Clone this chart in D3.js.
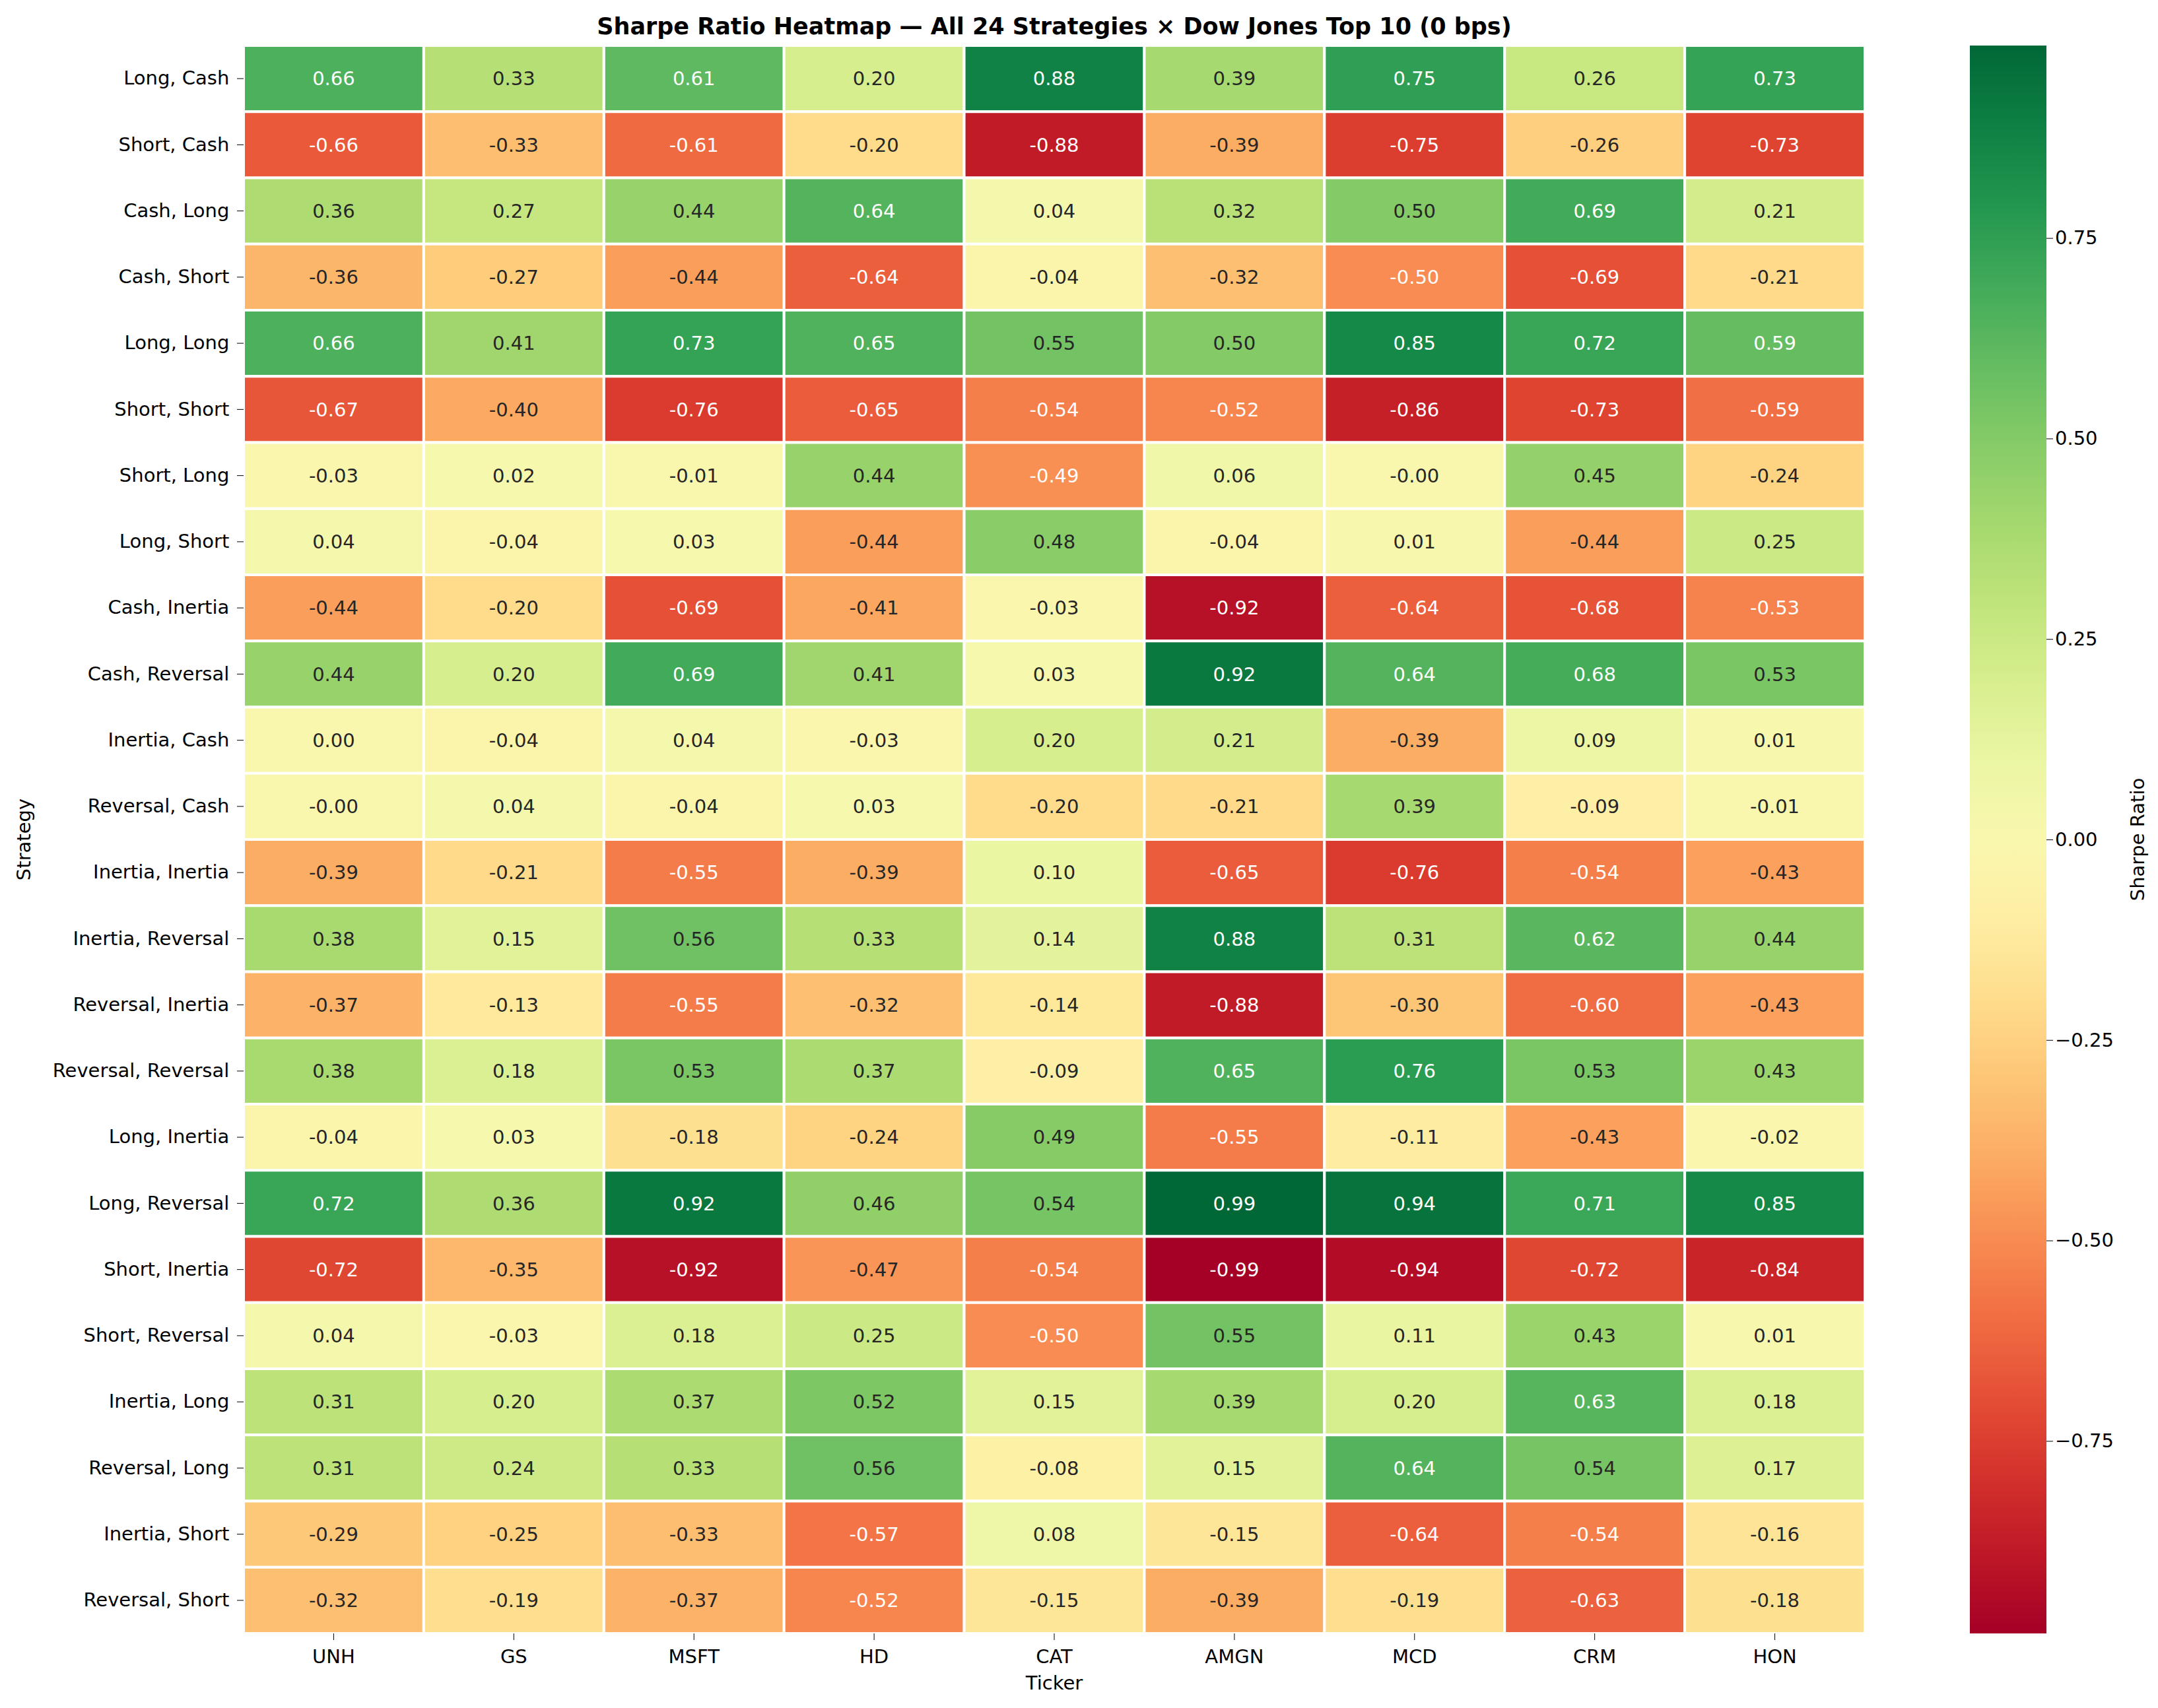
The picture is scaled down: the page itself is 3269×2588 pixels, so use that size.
<!DOCTYPE html>
<html><head><meta charset="utf-8">
<script src="https://cdn.jsdelivr.net/npm/d3@7"></script>
<style>body{margin:0;background:#fff}text{font-family:"DejaVu Sans",sans-serif}</style>
</head><body><svg id="c" width="3269" height="2588"></svg>
<script>
const tickers=["UNH","GS","MSFT","HD","CAT","AMGN","MCD","CRM","HON"];
const strategies=["Long, Cash","Short, Cash","Cash, Long","Cash, Short","Long, Long","Short, Short","Short, Long","Long, Short","Cash, Inertia","Cash, Reversal","Inertia, Cash","Reversal, Cash","Inertia, Inertia","Inertia, Reversal","Reversal, Inertia","Reversal, Reversal","Long, Inertia","Long, Reversal","Short, Inertia","Short, Reversal","Inertia, Long","Reversal, Long","Inertia, Short","Reversal, Short"];
const values=[
[0.66,0.33,0.61,0.20,0.88,0.39,0.75,0.26,0.73],
[-0.66,-0.33,-0.61,-0.20,-0.88,-0.39,-0.75,-0.26,-0.73],
[0.36,0.27,0.44,0.64,0.04,0.32,0.50,0.69,0.21],
[-0.36,-0.27,-0.44,-0.64,-0.04,-0.32,-0.50,-0.69,-0.21],
[0.66,0.41,0.73,0.65,0.55,0.50,0.85,0.72,0.59],
[-0.67,-0.40,-0.76,-0.65,-0.54,-0.52,-0.86,-0.73,-0.59],
[-0.03,0.02,-0.01,0.44,-0.49,0.06,-0.00,0.45,-0.24],
[0.04,-0.04,0.03,-0.44,0.48,-0.04,0.01,-0.44,0.25],
[-0.44,-0.20,-0.69,-0.41,-0.03,-0.92,-0.64,-0.68,-0.53],
[0.44,0.20,0.69,0.41,0.03,0.92,0.64,0.68,0.53],
[0.00,-0.04,0.04,-0.03,0.20,0.21,-0.39,0.09,0.01],
[-0.00,0.04,-0.04,0.03,-0.20,-0.21,0.39,-0.09,-0.01],
[-0.39,-0.21,-0.55,-0.39,0.10,-0.65,-0.76,-0.54,-0.43],
[0.38,0.15,0.56,0.33,0.14,0.88,0.31,0.62,0.44],
[-0.37,-0.13,-0.55,-0.32,-0.14,-0.88,-0.30,-0.60,-0.43],
[0.38,0.18,0.53,0.37,-0.09,0.65,0.76,0.53,0.43],
[-0.04,0.03,-0.18,-0.24,0.49,-0.55,-0.11,-0.43,-0.02],
[0.72,0.36,0.92,0.46,0.54,0.99,0.94,0.71,0.85],
[-0.72,-0.35,-0.92,-0.47,-0.54,-0.99,-0.94,-0.72,-0.84],
[0.04,-0.03,0.18,0.25,-0.50,0.55,0.11,0.43,0.01],
[0.31,0.20,0.37,0.52,0.15,0.39,0.20,0.63,0.18],
[0.31,0.24,0.33,0.56,-0.08,0.15,0.64,0.54,0.17],
[-0.29,-0.25,-0.33,-0.57,0.08,-0.15,-0.64,-0.54,-0.16],
[-0.32,-0.19,-0.37,-0.52,-0.15,-0.39,-0.19,-0.63,-0.18]];
const cbTicks=[-0.75,-0.5,-0.25,0,0.25,0.5,0.75];
const vmax=0.99;
const svg=d3.select("#c");
const L=369,R=2825,T=69,B=2475;
const x=d3.scaleBand().domain(tickers).range([L,R]);
const y=d3.scaleBand().domain(strategies).range([T,B]);
const color=v=>d3.interpolateRdYlGn((v+vmax)/(2*vmax));
const fmt=v=>{let s=Math.abs(v).toFixed(2);return (v<0||Object.is(v,-0))&&true?(v<0||1/v<0?"-"+s:s):s;};
function lum(c){const r=d3.rgb(c);const f=u=>{u/=255;return u<=0.03928?u/12.92:Math.pow((u+0.055)/1.055,2.4)};return 0.2126*f(r.r)+0.7152*f(r.g)+0.0722*f(r.b);}
strategies.forEach((s,i)=>tickers.forEach((t,j)=>{
 const v=values[i][j],c=color(v);
 svg.append("rect").attr("x",x(t)).attr("y",y(s)).attr("width",x.bandwidth()).attr("height",y.bandwidth()).attr("fill",c).attr("stroke","#fff").attr("stroke-width",4);
 svg.append("text").attr("x",x(t)+x.bandwidth()/2).attr("y",y(s)+y.bandwidth()/2).attr("dy","0.35em").attr("text-anchor","middle").attr("font-size",29).attr("fill",lum(c)>0.408?"#262626":"#fff").text(fmt(v));
}));
const xa=svg.append("g").attr("transform",`translate(0,${B})`).call(d3.axisBottom(x).tickSizeOuter(0).tickSize(10));
xa.select(".domain").remove();xa.selectAll("text").attr("font-size",29).attr("dy","1.1em").attr("font-family","DejaVu Sans");
const ya=svg.append("g").attr("transform",`translate(${L},0)`).call(d3.axisLeft(y).tickSizeOuter(0).tickSize(10));
ya.select(".domain").remove();ya.selectAll("text").attr("font-size",29).attr("dx","-0.3em").attr("font-family","DejaVu Sans");
svg.append("text").attr("x",(L+R)/2).attr("y",2560).attr("text-anchor","middle").attr("font-size",29).text("Ticker");
svg.append("text").attr("transform","translate(46,1272) rotate(-90)").attr("text-anchor","middle").attr("font-size",29).text("Strategy");
svg.append("text").attr("x",(L+R)/2).attr("y",52).attr("text-anchor","middle").attr("font-size",35).attr("font-weight","bold").text("Sharpe Ratio Heatmap — All 24 Strategies × Dow Jones Top 10  (0 bps)");
// colorbar
const cx=2984,cw=116;
const cy=d3.scaleLinear().domain([-vmax,vmax]).range([B,T]);
const defs=svg.append("defs");const g=defs.append("linearGradient").attr("id","cb").attr("x1",0).attr("x2",0).attr("y1",1).attr("y2",0);
d3.range(0,1.0001,0.05).forEach(o=>g.append("stop").attr("offset",o).attr("stop-color",d3.interpolateRdYlGn(o)));
svg.append("rect").attr("x",cx).attr("y",T).attr("width",cw).attr("height",B-T).attr("fill","url(#cb)");
const ca=svg.append("g").attr("transform",`translate(${cx+cw},0)`).call(d3.axisRight(cy).tickValues(cbTicks).tickSize(10).tickFormat(d=>d3.format(".2f")(d).replace("-","−")));
ca.select(".domain").remove();ca.selectAll("text").attr("font-size",29).attr("font-family","DejaVu Sans");
svg.append("text").attr("transform",`translate(3248,${(T+B)/2}) rotate(-90)`).attr("text-anchor","middle").attr("font-size",29).text("Sharpe Ratio");
</script></body></html>
